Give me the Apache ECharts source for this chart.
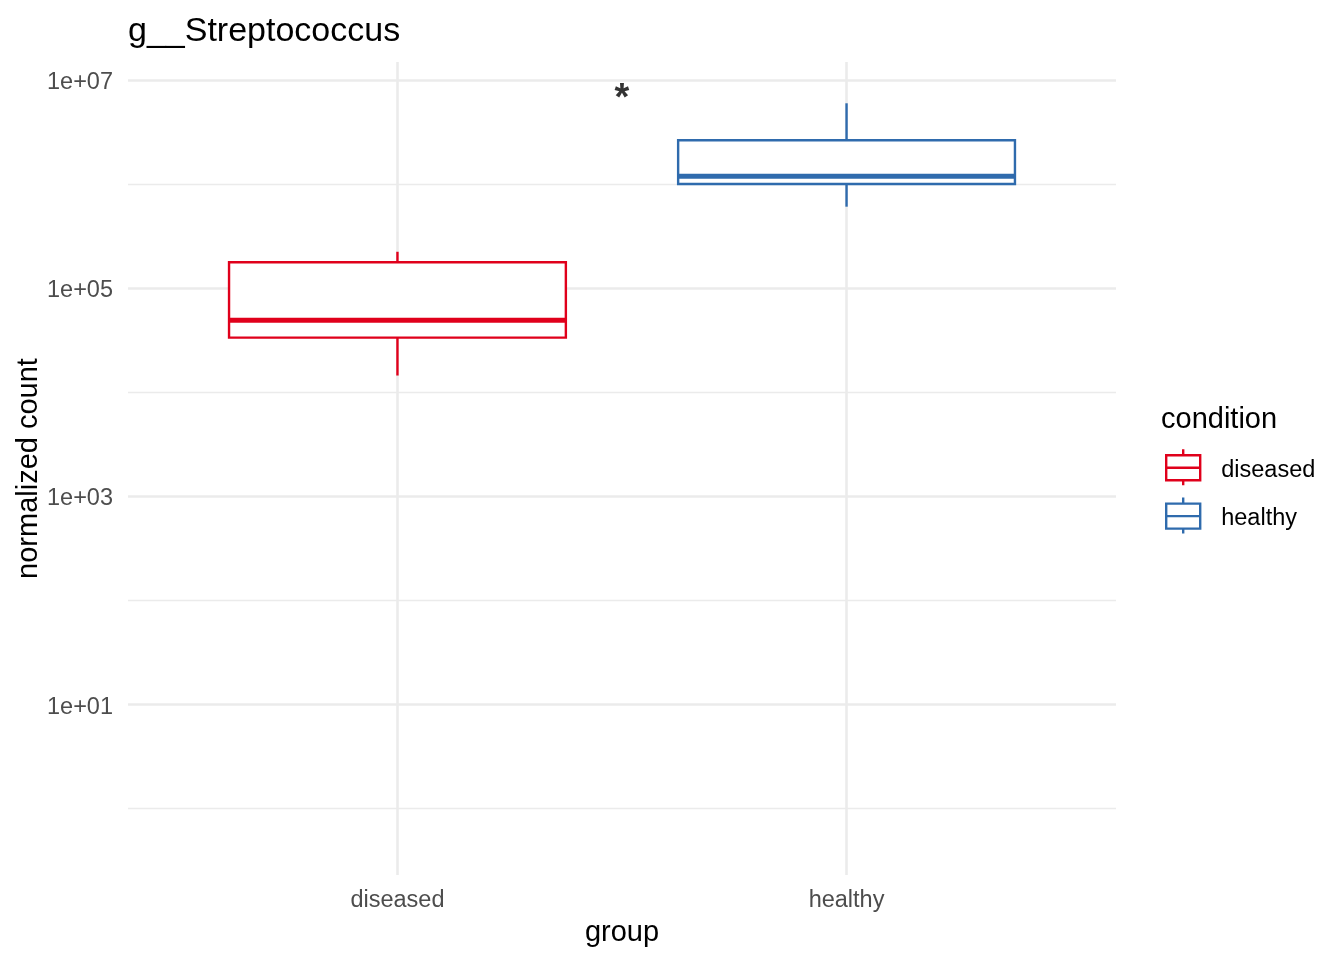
<!DOCTYPE html>
<html>
<head>
<meta charset="utf-8">
<script src="https://cdn.jsdelivr.net/npm/echarts@6/dist/echarts.min.js"></script>
<style>
html, body { margin: 0; padding: 0; background: #fff; }
#chart { width: 1344px; height: 960px; }
</style>
</head>
<body>
<div id="chart"></div>
<script>
// ---- data ----
const groups = ['diseased', 'healthy'];
const conditions = ['diseased', 'healthy'];
const groupPos = [1, 2];
const whiskerLow = [1.44e4, 6.05e5];
const q1 = [3.33e4, 1.0e6];
const median = [4.89e4, 1.19e6];
const q3 = [1.77e5, 2.63e6];
const whiskerHigh = [2.23e5, 5.97e6];

const yMajorTicks = [1e1, 1e3, 1e5, 1e7];
const yMajorLabels = ['1e+01', '1e+03', '1e+05', '1e+07'];
const yMinorTicks = [1e0, 1e2, 1e4, 1e6];
const yMin = 0.227;
const yMax = 1.489e7;

const sigLabel = '*';
const sigX = 1.5;
const sigY = 6.5e6;

// ---- styles ----
const colors = ['#E0001B', '#2F6BAD'];
const FONT = 'Liberation Sans, Arial, Helvetica, sans-serif';
const BOX_W = 0.75;
const gridColor = '#EBEBEB';

function yLabel(v) {
  for (let i = 0; i < yMajorTicks.length; i++) {
    if (Math.abs(Math.log10(v) - Math.log10(yMajorTicks[i])) < 1e-6) return '{t|' + yMajorLabels[i] + '}';
  }
  return '';
}

function renderBox(params, api) {
  const x = api.value(0);
  const lo = api.value(1), a = api.value(2), m = api.value(3), b = api.value(4), hi = api.value(5);
  const color = api.visual('color');
  const pHi = api.coord([x, hi]);
  const pLo = api.coord([x, lo]);
  const tl = api.coord([x - BOX_W / 2, b]);
  const br = api.coord([x + BOX_W / 2, a]);
  const ml = api.coord([x - BOX_W / 2, m]);
  const mr = api.coord([x + BOX_W / 2, m]);
  const lw = 2.4;
  return {
    type: 'group',
    children: [
      { type: 'line', shape: { x1: pHi[0], y1: pHi[1], x2: pHi[0], y2: tl[1] }, style: { stroke: color, lineWidth: lw } },
      { type: 'line', shape: { x1: pLo[0], y1: br[1], x2: pLo[0], y2: pLo[1] }, style: { stroke: color, lineWidth: lw } },
      { type: 'rect', shape: { x: tl[0], y: tl[1], width: br[0] - tl[0], height: br[1] - tl[1] }, style: { fill: '#fff', stroke: color, lineWidth: lw } },
      { type: 'line', shape: { x1: ml[0], y1: ml[1], x2: mr[0], y2: mr[1] }, style: { stroke: color, lineWidth: 5 } }
    ]
  };
}

const legendIcon = 'path://M18 0 L18 6 M1 6 L35 6 L35 31 L1 31 Z M1 18.5 L35 18.5 M18 31 L18 36';

const series = conditions.map((c, i) => ({
  name: c,
  type: 'custom',
  renderItem: renderBox,
  itemStyle: { color: colors[i] },
  encode: { x: 0, y: [1, 2, 3, 4, 5] },
  data: [[groupPos[i], whiskerLow[i], q1[i], median[i], q3[i], whiskerHigh[i]]],
  silent: true,
  z: 3
}));

series.push({
  name: 'sig',
  type: 'scatter',
  symbolSize: 0,
  data: [[sigX, sigY]],
  label: { show: true, position: 'inside', formatter: sigLabel, fontSize: 38, fontWeight: 'bold', color: '#000', fontFamily: FONT },
  silent: true,
  z: 4
});

const option = {
  backgroundColor: '#fff',
  animation: false,
  textStyle: { fontFamily: FONT },
  title: [
    { text: 'g__Streptococcus', left: 128, top: 15, padding: 0,
      textStyle: { fontSize: 34, fontWeight: 'normal', color: '#000', fontFamily: FONT } },
    { text: 'condition', left: 1161, top: 405, padding: 0,
      textStyle: { fontSize: 29, fontWeight: 'normal', color: '#000', fontFamily: FONT } }
  ],
  legend: {
    orient: 'vertical',
    left: 1165, top: 448, padding: 0,
    itemWidth: 36, itemHeight: 36, itemGap: 10,
    selectedMode: false,
    formatter: '{t|{name}}',
    textStyle: {
      fontSize: 23.5, color: '#000', fontFamily: FONT,
      rich: { t: { fontSize: 23.5, color: '#000', fontFamily: FONT, padding: [6, 0, 0, 15] } }
    },
    data: conditions.map((c, i) => ({
      name: c, icon: legendIcon,
      itemStyle: { color: '#fff', borderColor: colors[i], borderWidth: 2.4 }
    }))
  },
  grid: { left: 128, right: 228, top: 62, bottom: 85, containLabel: false, outerBoundsMode: 'none' },
  xAxis: {
    type: 'value', min: 0.4, max: 2.6,
    name: 'group', nameLocation: 'middle', nameGap: 43, nameMoveOverlap: false,
    nameTextStyle: { fontSize: 29, color: '#000', fontFamily: FONT },
    axisLine: { show: false },
    axisTick: { show: false, customValues: groupPos },
    axisLabel: { customValues: groupPos, margin: 14, fontSize: 23.5, color: '#4D4D4D', fontFamily: FONT,
      formatter: v => groups[groupPos.indexOf(Math.round(v))] || '' },
    splitLine: { show: true, lineStyle: { color: gridColor, width: 2.6 } }
  },
  yAxis: [
    {
      type: 'log', logBase: 10, min: yMin, max: yMax,
      name: 'normalized count', nameLocation: 'middle', nameGap: 85, nameMoveOverlap: false,
      nameTextStyle: { fontSize: 29, color: '#000', fontFamily: FONT },
      axisLine: { show: false },
      axisTick: { show: false, customValues: yMajorTicks },
      axisLabel: { customValues: yMajorTicks, margin: 15, fontSize: 23.5, color: '#4D4D4D', fontFamily: FONT,
        formatter: yLabel,
        rich: { t: { fontSize: 23.5, color: '#4D4D4D', fontFamily: FONT, padding: [6, 0, 0, 0] } } },
      splitLine: { show: true, lineStyle: { color: gridColor, width: 2.6 } },
      minorSplitLine: { show: false }
    },
    {
      type: 'log', logBase: 10, min: yMin, max: yMax,
      position: 'left',
      axisLine: { show: false },
      axisTick: { show: false, customValues: yMinorTicks },
      axisLabel: { show: false, customValues: yMinorTicks },
      splitLine: { show: true, lineStyle: { color: gridColor, width: 1.4 } }
    }
  ],
  series: series
};

const chart = echarts.init(document.getElementById('chart'), null, { renderer: 'canvas' });
chart.setOption(option);
</script>
</body>
</html>
